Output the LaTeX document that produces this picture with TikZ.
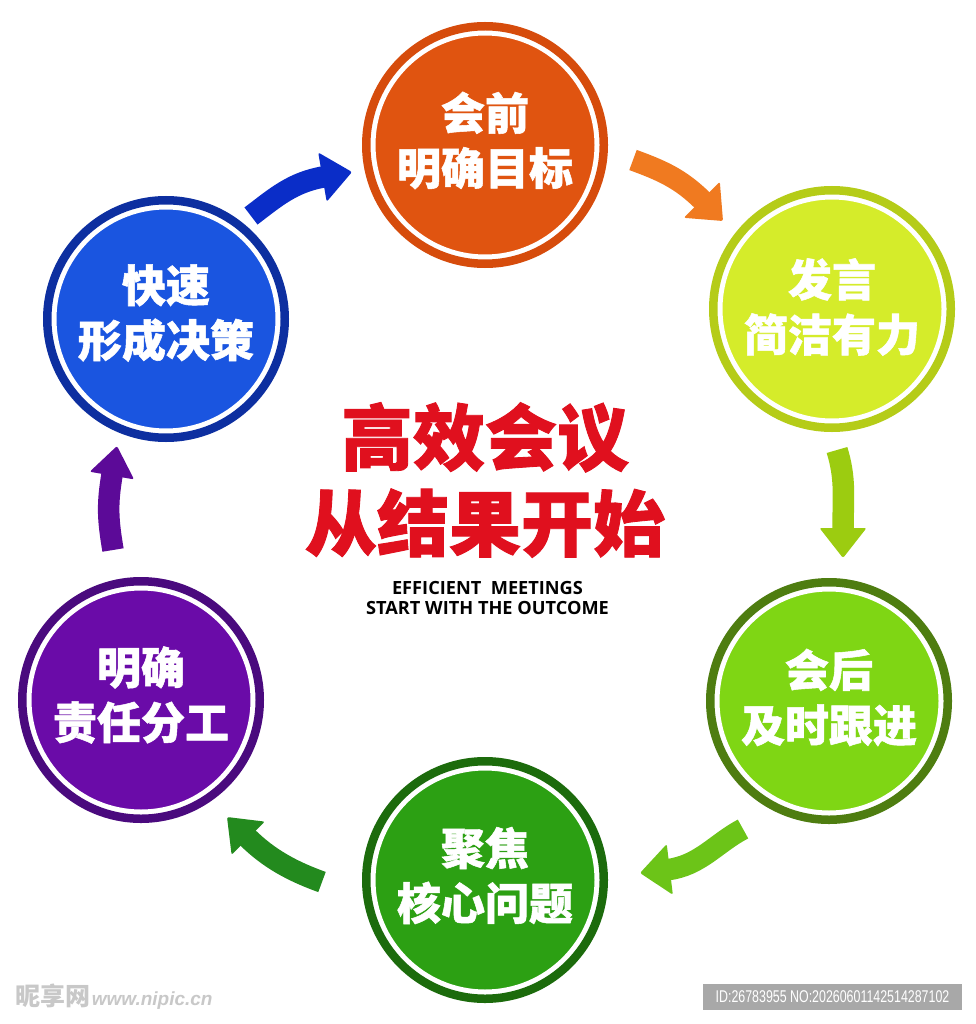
\documentclass[tikz,border=0pt]{standalone}
\usepackage{fontspec}
\newfontfamily\cjk[BoldFeatures={FakeBold=1.2}]{Noto Sans CJK SC}
\newfontfamily\cjkplain{Noto Sans CJK SC}
\newfontfamily\ensans{Open Sans}
\newfontfamily\idfont{Liberation Sans}
\usetikzlibrary{calc}
\definecolor{c1f}{RGB}{224,84,16}
\definecolor{c1r}{RGB}{214,76,12}
\definecolor{c2f}{RGB}{213,236,42}
\definecolor{c2r}{RGB}{181,204,24}
\definecolor{c3f}{RGB}{127,214,20}
\definecolor{c3r}{RGB}{78,125,16}
\definecolor{c4f}{RGB}{44,160,19}
\definecolor{c4r}{RGB}{28,107,12}
\definecolor{c5f}{RGB}{106,11,168}
\definecolor{c5r}{RGB}{74,10,126}
\definecolor{c6f}{RGB}{26,85,224}
\definecolor{c6r}{RGB}{13,47,160}
\definecolor{a1}{RGB}{10,45,200}
\definecolor{a2}{RGB}{240,122,32}
\definecolor{a3}{RGB}{156,204,16}
\definecolor{a4}{RGB}{108,196,24}
\definecolor{a5}{RGB}{35,138,30}
\definecolor{a6}{RGB}{92,10,152}
\definecolor{titlered}{RGB}{224,16,30}
\definecolor{idgray}{RGB}{168,168,168}
\definecolor{wmgray}{RGB}{200,200,200}
\newcommand\flowarrow[7]{%
  \coordinate (#1t) at #3;
  \coordinate (#1c) at #4;
  \coordinate (#1d) at #5;
  \coordinate (#1h) at #6;
  \coordinate (#1b) at ($(#1h)!28pt!(#1d)$);
  \coordinate (#1e) at ($(#1h)!30pt!(#1d)$);
  \draw[#2, line width=21.5pt] (#1t) .. controls (#1c) and (#1d) .. (#1b);
  \fill[#2, rounded corners=2pt] (#1h) -- ($(#1e)!#7!90:(#1h)$) -- ($(#1e)!#7!-90:(#1h)$) -- cycle;
}
\begin{document}
\begin{tikzpicture}[x=1pt,y=-1pt,
  stepc/.style={circle, minimum size=224pt, draw=white, line width=5pt, inner sep=0pt},
  lbl/.style={text=white, align=center, inner sep=0pt, font=\cjk\bfseries\fontsize{44}{55}\selectfont}]
\useasboundingbox[fill=white] (0,0) rectangle (975,1024);

% circles
\node[stepc, fill=c1f] (n1) at (485,145) {};
\draw[c1r, line width=8.5pt] (n1.center) circle[radius=118.75];
\node[lbl] (t1) at ($(n1.center)+(0,-4.5)$) {会前\\明确目标};

\node[stepc, fill=c2f] (n2) at (832,309) {};
\draw[c2r, line width=8.5pt] (n2.center) circle[radius=118.75];
\node[lbl] (t2) at ($(n2.center)+(0,-2)$) {发言\\简洁有力};

\node[stepc, fill=c3f] (n3) at (829,701) {};
\draw[c3r, line width=8.5pt] (n3.center) circle[radius=118.75];
\node[lbl] (t3) at ($(n3.center)+(0,-3.5)$) {会后\\及时跟进};

\node[stepc, fill=c4f] (n4) at (485,880) {};
\draw[c4r, line width=8.5pt] (n4.center) circle[radius=118.75];
\node[lbl] (t4) at ($(n4.center)+(0,-4.5)$) {聚焦\\核心问题};

\node[stepc, fill=c5f] (n5) at (141,700) {};
\draw[c5r, line width=8.5pt] (n5.center) circle[radius=118.75];
\node[lbl] (t5) at ($(n5.center)+(0,-5)$) {明确\\责任分工};

\node[stepc, fill=c6f] (n6) at (166,319) {};
\draw[c6r, line width=8.5pt] (n6.center) circle[radius=118.75];
\node[lbl] (t6) at ($(n6.center)+(0,-6)$) {快速\\形成决策};

% arrows
\flowarrow{ar1}{a1}{(251,216)}{(276.6,196.5)}{(292.9,182.2)}{(352,172)}{25pt}
\flowarrow{ar2}{a2}{(633,160)}{(661.2,170.3)}{(680.6,178.6)}{(723,221)}{25.5pt}
\flowarrow{ar3}{a3}{(837,450)}{(846,479.1)}{(843,498)}{(843,558)}{23.5pt}
\flowarrow{ar4}{a4}{(743,829)}{(716.4,842.9)}{(699.6,865.8)}{(640,873)}{25.5pt}
\flowarrow{ar5}{a5}{(322,882)}{(293.8,871.8)}{(269.4,859.4)}{(227,817)}{23.5pt}
\flowarrow{ar6}{a6}{(113,550)}{(108,520.2)}{(106.8,505.1)}{(117,446)}{22.5pt}

% central title
\node[text=titlered, align=center, inner sep=0pt, font=\cjk\bfseries\fontsize{72}{86}\selectfont] (title) at (485,480) {高效会议\\从结果开始};
\node[text=black, align=center, inner sep=0pt, font=\ensans\bfseries\fontsize{18.2}{20}\selectfont] (sub) at (487.5,598) {EFFICIENT\ \ MEETINGS\\START WITH THE OUTCOME};

% watermarks
\node[text=wmgray, inner sep=0pt, anchor=west] (wm) at (15,997) {{\cjkplain\bfseries\fontsize{25}{25}\selectfont 昵享网}\,{\idfont\itshape\bfseries\fontsize{19}{19}\selectfont www.nipic.cn}};
\node[fill=idgray, text=white, inner sep=0pt, minimum width=259pt, minimum height=26pt] (id) at (832.5,997) {\idfont\fontsize{17}{17}\selectfont\scalebox{0.73}[1]{ID:26783955 NO:20260601142514287102}};
\end{tikzpicture}
\end{document}
